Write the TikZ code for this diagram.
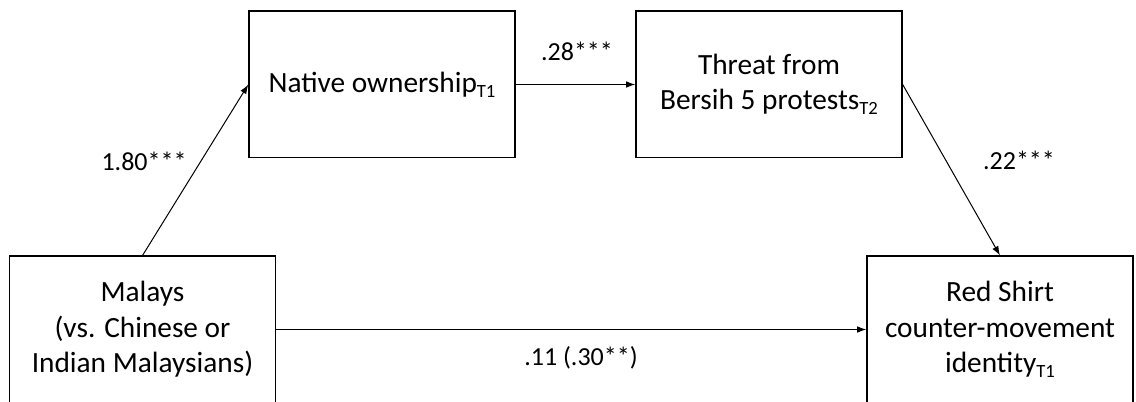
\documentclass[tikz,border=0pt]{standalone}
\usepackage{fontspec}
\setmainfont{Carlito}
\usepackage{tikz}
\usetikzlibrary{arrows.meta,positioning,calc}

\newcommand{\tsub}[1]{\raisebox{-0.35ex}{\fontsize{14}{14}\selectfont #1}}

\begin{document}
\begin{tikzpicture}[
    x=0.75pt, y=-0.75pt,
    var/.style={rectangle, draw=black, line width=1pt, minimum width=199.5pt,
                minimum height=110pt, align=center, inner sep=2pt,
                font=\fontsize{22}{26.5}\selectfont},
    coef/.style={font=\fontsize{19.5}{22}\selectfont, inner sep=0pt},
    path/.style={-{Latex[length=7pt,width=5pt]}, line width=0.75pt}
  ]
    \useasboundingbox (0,0) rectangle (1136,402);

    \node[var] (mal) at (142.5,329.5) {Malays\\(vs. Chinese or\\Indian Malaysians)};
    \node[var] (nat) at (382,84.5) {Native ownership\tsub{T1}};
    \node[var] (thr) at (769,84.5) {Threat from\\Bersih 5 protests\tsub{T2}};
    \node[var] (red) at (1000,329.5) {Red Shirt\\counter-movement\\identity\tsub{T1}};

    \draw[path] (mal.north) -- (nat.west);
    \draw[path] (nat) -- (thr);
    \draw[path] (thr.east) -- (red.north);
    \draw[path] (mal) -- (red);

    \node[coef] (c1) at (144,161) {1.80***};
    \node[coef] (c2) at (577,51) {.28***};
    \node[coef] (c3) at (1019,160) {.22***};
    \node[coef] (c4) at (581,358) {.11 (.30**)};
  \end{tikzpicture}
\end{document}
